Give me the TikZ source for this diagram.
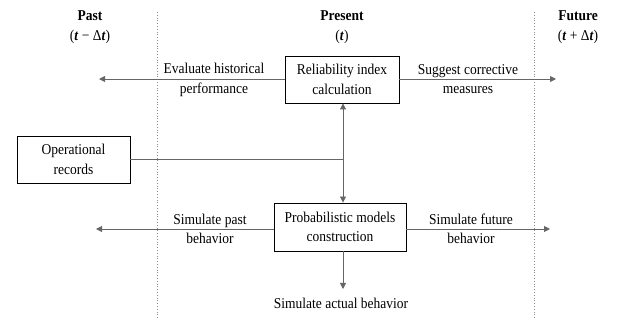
\documentclass[tikz,border=0pt]{standalone}
\usepackage{fontspec}
\setmainfont{Liberation Serif}[FakeStretch=0.9]
\usetikzlibrary{arrows.meta}
\begin{document}
\begin{tikzpicture}[x=1pt,y=-1pt,
  every node/.style={font=\fontsize{15}{19.5}\selectfont},
  box/.style={draw=black,line width=0.9pt,align=center,inner sep=0pt},
  lbl/.style={align=center,inner sep=0pt},
  conn/.style={draw=black!60,line width=0.9pt},
  arr/.style={conn,-{Triangle[length=6pt,width=6pt]}},
  divider/.style={draw=black!45,dotted,line width=0.8pt}]
\useasboundingbox (0,0) rectangle (624,320);
% dividers
\draw[divider] (157,12) -- (157,320);
\draw[divider] (534,12) -- (534,320);
% headers
\node[lbl] (past) at (90,27) {\textbf{Past}\\(\textbf{\textit{t}} − Δ\textbf{\textit{t}})};
\node[lbl] (present) at (342,27) {\textbf{Present}\\(\textbf{\textit{t}})};
\node[lbl] (future) at (578,27) {\textbf{Future}\\(\textbf{\textit{t}} + Δ\textbf{\textit{t}})};
% boxes
\node[box,minimum width=114pt,minimum height=47pt] (rel) at (342,79.5) {Reliability index\\calculation};
\node[box,minimum width=113pt,minimum height=47pt] (ops) at (73.5,159.5) {Operational\\records};
\node[box,minimum width=132pt,minimum height=48pt] (prob) at (340,227) {Probabilistic models\\construction};
% free ends
\coordinate (pastA) at (99,79);
\coordinate (futA) at (556,79);
\coordinate (pastB) at (96,229);
\coordinate (futB) at (550,229);
\coordinate (junc) at (343,159);
\coordinate (act) at (343,289);
% connectors
\draw[arr] (rel.west |- pastA) -- (pastA);
\draw[arr] (rel.east |- futA) -- (futA);
\draw[conn] (ops.east |- junc) -- (junc);
\draw[arr] (junc) -- (junc |- rel.south);
\draw[arr] (junc) -- (junc |- prob.north);
\draw[arr] (prob.west |- pastB) -- (pastB);
\draw[arr] (prob.east |- futB) -- (futB);
\draw[arr] (junc |- prob.south) -- (act);
% labels
\node[lbl] (evh) at (214,80) {Evaluate historical\\performance};
\node[lbl] (sug) at (468,79) {Suggest corrective\\measures};
\node[lbl] (simp) at (210,229) {Simulate past\\behavior};
\node[lbl] (simf) at (471,229) {Simulate future\\behavior};
\node[lbl] (sima) at (341,303.5) {Simulate actual behavior};
\end{tikzpicture}
\end{document}
